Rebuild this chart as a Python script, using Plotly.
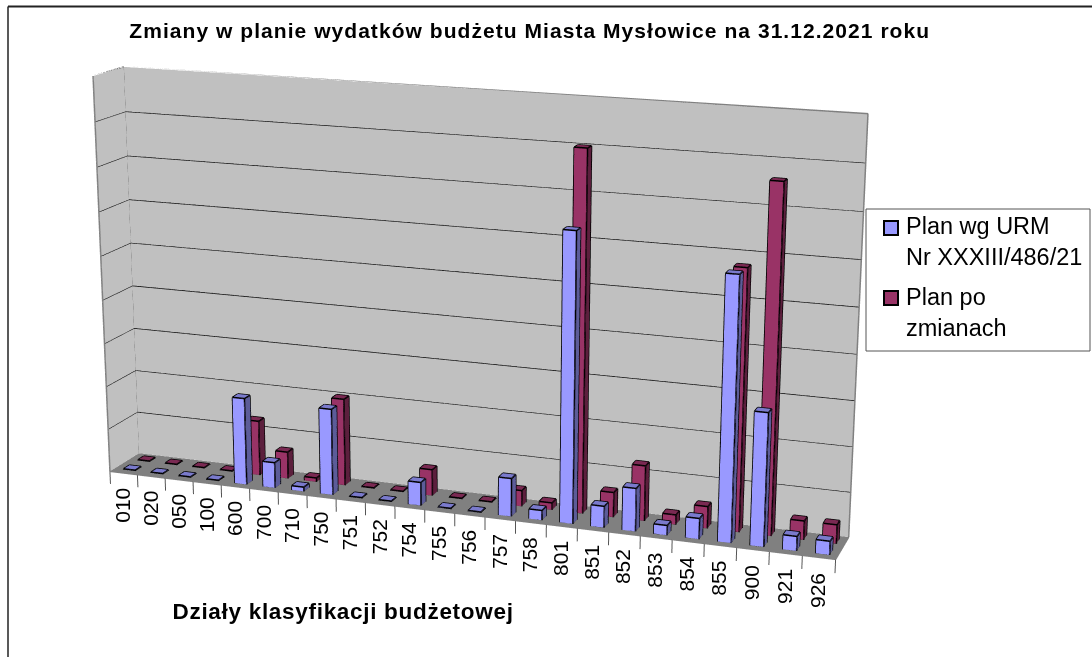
import plotly.graph_objects as go

categories = ["010","020","050","100","600","700","710","750","751","752","754","755","756","757","758","801","851","852","853","854","855","900","921","926"]
plan_urm = [0.2,0.2,0.2,0.2,20.0,5.9,1.0,19.7,0.2,0.2,5.3,0.2,0.2,8.6,2.2,64.0,4.8,9.6,2.2,4.6,57.7,29.2,3.2,3.0]
plan_po = [0.2,0.2,0.2,0.2,12.7,6.2,0.9,20.0,0.2,0.2,6.0,0.2,0.2,3.6,1.6,80.0,5.6,12.4,2.2,4.9,57.5,76.0,4.2,4.2]
series_names = ["Plan wg URM<br>Nr XXXIII/486/21", "Plan po<br>zmianach"]
z_grid = [10,20,30,40,50,60,70,80]
Z_MAX = 90.0
Z_MIN = -5.0
N = len(categories)
W, H = 1092, 657
FH, TOP = 1926, 634  # taller figure: gives the long-lens perspective of the source chart

eye = dict(x=0.9935,y=-2.7092,z=0.7665)
center = dict(x=0.0552,y=0.1633,z=-0.0555)
up = dict(x=-0.0092,y=0,z=1)
aspect = dict(x=1,y=0.0833,z=0.5713)

BAR_W = 0.21
BAR_D = 0.2
FLAT = dict(ambient=1,diffuse=0,specular=0,roughness=1,fresnel=0)

def add_bars(fig, vals, row, front, side, top, name):
    xs,ys,zs,i,j,k,fc=[],[],[],[],[],[],[]
    lx,ly,lz=[],[],[]
    for n,v in enumerate(vals):
        x0,x1=n+0.55-BAR_W,n+0.55+BAR_W
        y0,y1=row-BAR_D,row+BAR_D
        b=len(xs)
        xs+=[x0,x1,x1,x0,x0,x1,x1,x0]
        ys+=[y0,y0,y1,y1,y0,y0,y1,y1]
        zs+=[0,0,0,0,v,v,v,v]
        faces=[((0,1,5,4),front),((1,2,6,5),side),((4,5,6,7),top),((3,0,4,7),side),((2,3,7,6),front)]
        for q,c in faces:
            i+=[b+q[0],b+q[0]]; j+=[b+q[1],b+q[2]]; k+=[b+q[2],b+q[3]]; fc+=[c,c]
        for a,e in [(0,1),(1,2),(2,3),(3,0),(4,5),(5,6),(6,7),(7,4),(0,4),(1,5),(2,6),(3,7)]:
            lx+=[xs[b+a],xs[b+e],None]; ly+=[ys[b+a],ys[b+e],None]; lz+=[zs[b+a],zs[b+e],None]
    fig.add_trace(go.Mesh3d(x=xs,y=ys,z=zs,i=i,j=j,k=k,facecolor=fc,flatshading=True,name=name,
        lighting=FLAT,hoverinfo="skip",showlegend=False))
    fig.add_trace(go.Scatter3d(x=lx,y=ly,z=lz,mode="lines",line=dict(color="black",width=3),hoverinfo="skip",showlegend=False))

fig = go.Figure()
wx=[0,N,N,0, 0,0,0,0, 0,N,N,0]
wy=[2,2,2,2, 0,2,2,0, 0,0,2,2]
wz=[0,0,Z_MAX,Z_MAX, 0,0,Z_MAX,Z_MAX, 0,0,0,0]
fig.add_trace(go.Mesh3d(x=wx,y=wy,z=wz,i=[0,0,4,4,8,8],j=[1,2,5,6,9,10],k=[2,3,6,7,10,11],
    facecolor=["#C0C0C0"]*4+["#808080"]*2,flatshading=True,lighting=FLAT,hoverinfo="skip",showlegend=False))
gx,gy,gz=[],[],[]
for g in z_grid:
    gx+=[0,0,N,None]; gy+=[0,2,2,None]; gz+=[g,g,g,None]
fig.add_trace(go.Scatter3d(x=gx,y=gy,z=gz,mode="lines",line=dict(color="#111111",width=2),hoverinfo="skip",showlegend=False))
ex=[0,0,N,N,None,0,0,None,0,0,None,0,N,N]
ey=[0,2,2,2,None,0,0,None,2,2,None,0,0,2]
ez=[Z_MAX,Z_MAX,Z_MAX,0,None,0,Z_MAX,None,0,Z_MAX,None,0,0,0]
fig.add_trace(go.Scatter3d(x=ex,y=ey,z=ez,mode="lines",line=dict(color="#808080",width=3),hoverinfo="skip",showlegend=False))
tx,ty,tz=[],[],[]
for n in range(N+1):
    tx+=[n,n,None]; ty+=[0,0,None]; tz+=[0,-3,None]
fig.add_trace(go.Scatter3d(x=tx,y=ty,z=tz,mode="lines",line=dict(color="#555555",width=2),hoverinfo="skip",showlegend=False))

add_bars(fig, plan_po, 1.5, "#993366", "#5C1F3D", "#7A2952", series_names[1])
add_bars(fig, plan_urm, 0.5, "#9999FF", "#5C5C99", "#7A7ACC", series_names[0])

scene_ann=[dict(x=n+0.45,y=0.01,z=-3.0,text=c,textangle=-90,showarrow=False,yanchor="top",xanchor="center",
    font=dict(family="Liberation Sans",size=21,color="black")) for n,c in enumerate(categories)]

hidden=dict(visible=False,showgrid=False,zeroline=False,showspikes=False)
fig.update_layout(width=W,height=FH,margin=dict(l=0,r=0,t=0,b=0),paper_bgcolor="white",showlegend=False,
    scene=dict(domain=dict(x=[0,1],y=[0,1]),aspectmode="manual",aspectratio=aspect,dragmode="orbit",
        camera=dict(eye=eye,center=center,up=up,projection=dict(type="perspective")),
        xaxis=dict(range=[0,N],**hidden),yaxis=dict(range=[0,2],**hidden),zaxis=dict(range=[Z_MIN,Z_MAX],**hidden),
        annotations=scene_ann,bgcolor="rgba(0,0,0,0)"))

def px(x): return x/W
def py(y): return 1-(y+TOP)/FH
shapes=[dict(type="line",xref="paper",yref="paper",x0=px(8),x1=1,y0=py(6.5),y1=py(6.5),line=dict(color="#222",width=2)),
        dict(type="line",xref="paper",yref="paper",x0=px(8),x1=px(8),y0=py(6.5),y1=py(657),line=dict(color="#222",width=1.5)),
        dict(type="rect",xref="paper",yref="paper",x0=px(866),x1=px(1090),y0=py(209),y1=py(351),line=dict(color="#555",width=1),fillcolor="white"),
        dict(type="rect",xref="paper",yref="paper",x0=px(884),x1=px(898),y0=py(221),y1=py(235),line=dict(color="black",width=2),fillcolor="#9999FF"),
        dict(type="rect",xref="paper",yref="paper",x0=px(884),x1=px(898),y0=py(291),y1=py(305),line=dict(color="black",width=2),fillcolor="#993366")]
fig.update_layout(shapes=shapes)
font=lambda s: dict(family="Liberation Sans",size=s,color="black")
anns=[dict(xref="paper",yref="paper",x=px(529),y=py(31),xanchor="center",text="<b>Zmiany w planie wydatków budżetu Miasta Mysłowice na 31.12.2021 roku</b>",showarrow=False,font=font(21)),
      dict(xref="paper",yref="paper",x=px(343),y=py(611),xanchor="center",text="<b>Działy klasyfikacji budżetowej</b>",showarrow=False,font=font(22.5)),
      dict(xref="paper",yref="paper",x=px(904),y=py(241),xanchor="left",align="left",text=series_names[0],showarrow=False,font=font(23.5)),
      dict(xref="paper",yref="paper",x=px(904),y=py(312),xanchor="left",align="left",text=series_names[1],showarrow=False,font=font(23.5))]
fig.update_layout(annotations=anns)
post = f"""
document.documentElement.style.overflow='hidden';
document.body.style.margin='0';
document.body.style.overflow='hidden';
document.body.style.height='{H}px';
var gd=document.querySelector('.plotly-graph-div');
gd.style.position='absolute'; gd.style.left='0'; gd.style.top='-{TOP}px';
setInterval(function(){{
  document.querySelectorAll('text.annotation-text').forEach(function(t){{
    var s=t.textContent;
    if(s.indexOf('Zmiany')==0) t.style.letterSpacing='1.05px';
    if(s.indexOf('Dzia')==0) t.style.letterSpacing='0.7px';
  }});
}},100);
"""
fig.write_html("out.html", post_script=post, config=dict(displayModeBar=False))
